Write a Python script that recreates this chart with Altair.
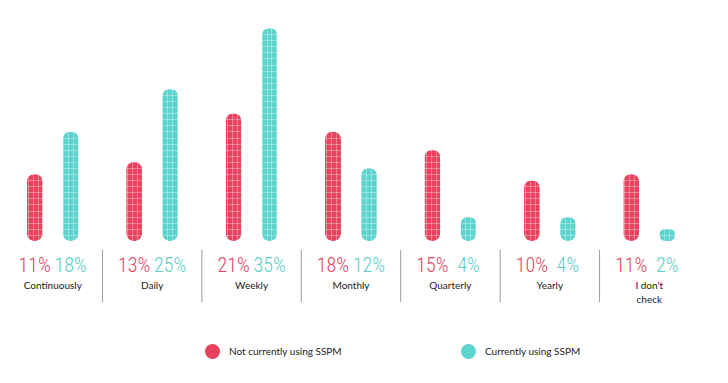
import altair as alt
import pandas as pd

categories = ["Continuously", "Daily", "Weekly", "Monthly", "Quarterly", "Yearly", "I don't\ncheck"]
not_using = [11, 13, 21, 18, 15, 10, 11]
using = [18, 25, 35, 12, 4, 4, 2]
series = ["Not currently using SSPM", "Currently using SSPM"]
bar_colors = ["#E8425F", "#5DD3CD"]
text_colors = ["#E04460", "#58CFC8"]

rows = []
for c, a, b in zip(categories, not_using, using):
    rows.append({"cat": c, "series": series[0], "value": a, "label": f"{a}%"})
    rows.append({"cat": c, "series": series[1], "value": b, "label": f"{b}%"})
df = pd.DataFrame(rows)
cat_df = pd.DataFrame({"cat": categories})
sep_df = pd.DataFrame({"cat": categories[1:]})


def xs():
    return alt.Scale(domain=categories, range=[-5, 691], paddingInner=0, paddingOuter=0)


off_scale = alt.Scale(domain=series, paddingInner=0, paddingOuter=0.38)

bars = alt.Chart(df).mark_bar(size=16, cornerRadius=8).encode(
    x=alt.X("cat:N", scale=xs(), sort=categories, axis=None),
    xOffset=alt.XOffset("series:N", scale=off_scale, sort=series),
    y=alt.Y("value:Q", scale=alt.Scale(domain=[0, 35], nice=False),
            axis=alt.Axis(grid=True, gridColor="white", gridOpacity=0.32, gridWidth=1,
                          tickCount=35, labels=False, ticks=False, domain=False,
                          title=None, zindex=1)),
    color=alt.Color("series:N", scale=alt.Scale(domain=series, range=bar_colors),
                    legend=alt.Legend(orient="none", legendX=197, legendY=316,
                                      direction="horizontal", title=None,
                                      symbolType="circle", symbolSize=225,
                                      symbolStrokeWidth=0, symbolOpacity=1,
                                      labelFont="Lato", labelFontSize=10,
                                      labelColor="#222222", labelOffset=9,
                                      columnPadding=119)),
)

pct = alt.Chart(df).mark_text(font="Roboto Condensed, DejaVu Sans Condensed, Liberation Sans Narrow",
                              fontSize=20, fontWeight=300,
                              baseline="alphabetic").encode(
    x=alt.X("cat:N", scale=xs(), sort=categories, axis=None),
    xOffset=alt.XOffset("series:N", scale=off_scale, sort=series),
    y=alt.value(244),
    text="label:N",
    color=alt.Color("series:N", scale=alt.Scale(domain=series, range=text_colors), legend=None),
)

cats = alt.Chart(cat_df).mark_text(font="Lato", fontSize=10, baseline="top",
                                   lineBreak="\n", lineHeight=14, color="#1a1a1a").encode(
    x=alt.X("cat:N", scale=xs(), sort=categories, axis=None),
    y=alt.value(253),
    text="cat:N",
)

seps = alt.Chart(sep_df).mark_rule(color="#9a9a9a", strokeWidth=1).encode(
    x=alt.X("cat:N", scale=xs(), sort=categories, axis=None, bandPosition=0),
    y=alt.value(222),
    y2=alt.value(274),
)

vgrid = alt.Chart(cat_df).mark_rule(opacity=0).encode(
    x=alt.XDatum(0, type="quantitative",
                 scale=alt.Scale(domain=[0, 140], nice=False),
                 axis=alt.Axis(orient="top", grid=True, gridColor="white", gridOpacity=0.32,
                               gridWidth=1, tickCount=140, labels=False, ticks=False,
                               domain=False, title=None, zindex=1)),
)

chart = alt.layer(bars, pct, cats, seps, vgrid).resolve_scale(
    x="independent", color="independent"
).properties(
    width=696, height=213,
    padding={"left": 0, "top": 20, "right": 0, "bottom": 5},
).configure_view(stroke=None)

chart.save("out.html", embed_options={"renderer": "svg", "actions": False})
